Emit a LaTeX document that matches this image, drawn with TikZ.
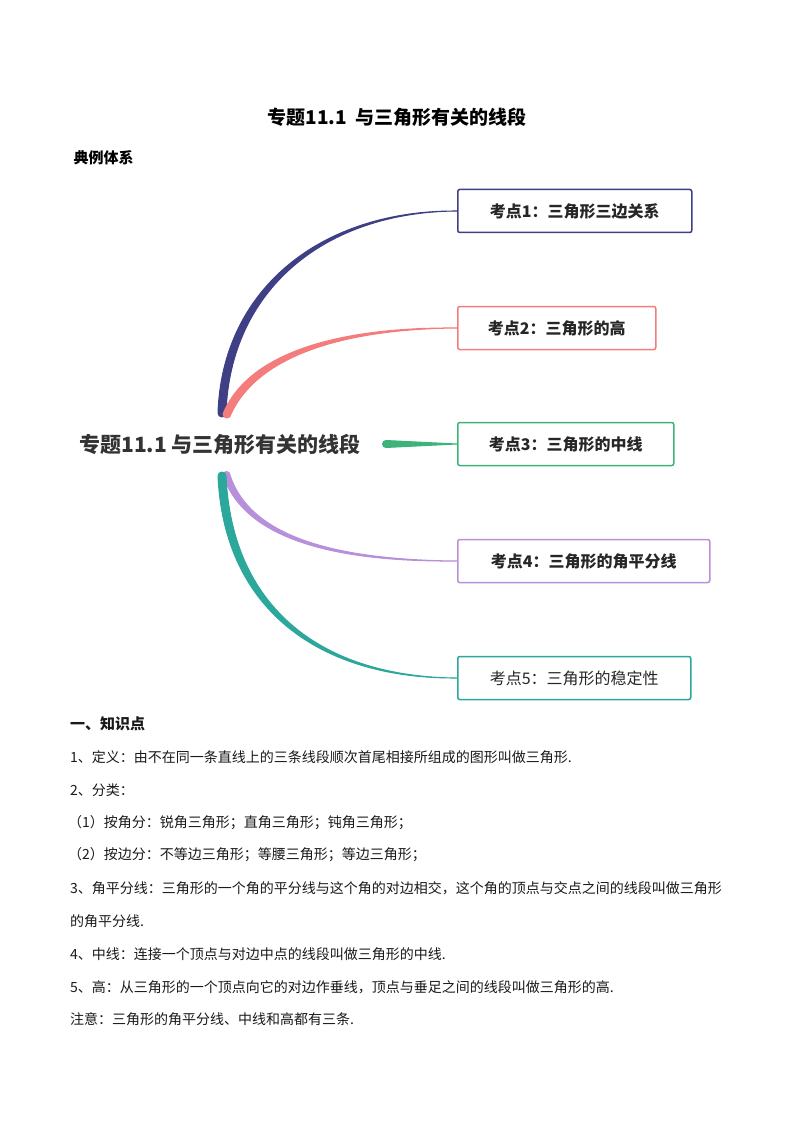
\documentclass[tikz,border=0pt]{standalone}
\usepackage{fontspec}
\setmainfont{Liberation Serif}
\newfontfamily\cjk{Noto Sans CJK SC}
\newcommand\cjkb{\cjk\bfseries}
\usetikzlibrary{positioning}

\definecolor{navyline}{HTML}{3F3F86}
\definecolor{salmonline}{HTML}{F47C7C}
\definecolor{greenline}{HTML}{3DB37A}
\definecolor{purpleline}{HTML}{B88FDA}
\definecolor{tealline}{HTML}{2BA79C}

\begin{document}
\begin{tikzpicture}[x=1pt, y=-1pt]

\useasboundingbox (0, 0) rectangle (794, 1123) ;

% title

\node (title) at (397, 117) {\cjkb\fontsize{19}{22}\selectfont 专题11.1\ \ 与三角形有关的线段} ;
\node [anchor=west] (system) at (70, 158) {\cjkb\fontsize{15}{18}\selectfont 典例体系} ;

% mind map

\tikzstyle{topic box} = [draw, line width=1.5pt, rounded corners=2pt, minimum height=43pt,
	anchor=west, inner xsep=20pt, font=\cjkb\fontsize{16}{19}\selectfont, text=black!85]
\tikzstyle{branch} = [line cap=round, line join=round, line width=1pt]

\node [anchor=center, text=black!80, font=\cjkb\fontsize{21}{24}\selectfont] (root) at (220, 444) {专题11.1 与三角形有关的线段} ;

\node [topic box, draw=navyline, minimum width=234pt] (k1) at (457, 211) {考点1：三角形三边关系} ;
\node [topic box, draw=salmonline, minimum width=198pt] (k2) at (457, 328) {考点2：三角形的高} ;
\node [topic box, draw=greenline, minimum width=216pt] (k3) at (457, 444) {考点3：三角形的中线} ;
\node [topic box, draw=purpleline, minimum width=252pt] (k4) at (457, 561) {考点4：三角形的角平分线} ;
\node [topic box, draw=tealline, minimum width=233pt, font=\cjk\fontsize{16}{19}\selectfont] (k5) at (457, 678) {考点5：三角形的稳定性} ;

% tapered branches

\draw [branch, navyline, fill=navyline] (218, 413) .. controls (222, 290) and (320, 210) .. (k1.west)
	.. controls (322, 212) and (230, 292) .. (226, 413) arc (0:180:4) -- cycle ;
\draw [branch, salmonline, fill=salmonline] (223, 414) .. controls (250, 348) and (350, 327) .. (k2.west)
	.. controls (352, 329) and (260, 352) .. (231, 414) arc (0:180:4) -- cycle ;
\draw [branch, greenline, fill=greenline] (386, 440.5) -- (k3.west) -- (386, 447.5) arc (90:270:3.5) -- cycle ;
\draw [branch, purpleline, fill=purpleline] (223, 475) .. controls (246, 545) and (350, 562) .. (k4.west)
	.. controls (352, 560) and (252, 543) .. (230, 475) arc (0:-180:3.5) -- cycle ;
\draw [branch, tealline, fill=tealline] (218, 476) .. controls (224, 610) and (320, 679) .. (k5.west)
	.. controls (322, 677) and (232, 608) .. (226, 476) arc (0:-180:4) -- cycle ;

% knowledge points

\tikzstyle{body} = [anchor=west, inner sep=0pt, font=\cjk\fontsize{14}{17}\selectfont, text=black!90]

\node [body, font=\cjkb\fontsize{15}{18}\selectfont] (h1) at (70, 724) {一、知识点} ;
\node [body] (p1) at (70, 757) {1、定义：由不在同一条直线上的三条线段顺次首尾相接所组成的图形叫做三角形.} ;
\node [body] (p2) at (70, 790) {2、分类：} ;
\node [body] (p3) at (68, 823) {（1）按角分：锐角三角形；直角三角形；钝角三角形；} ;
\node [body] (p4) at (68, 855) {（2）按边分：不等边三角形；等腰三角形；等边三角形；} ;
\node [body] (p5) at (70, 888) {3、角平分线：三角形的一个角的平分线与这个角的对边相交，这个角的顶点与交点之间的线段叫做三角形} ;
\node [body] (p6) at (70, 921) {的角平分线.} ;
\node [body] (p7) at (70, 954) {4、中线：连接一个顶点与对边中点的线段叫做三角形的中线.} ;
\node [body] (p8) at (70, 987) {5、高：从三角形的一个顶点向它的对边作垂线，顶点与垂足之间的线段叫做三角形的高.} ;
\node [body] (p9) at (70, 1019) {注意：三角形的角平分线、中线和高都有三条.} ;

\end{tikzpicture}
\end{document}
